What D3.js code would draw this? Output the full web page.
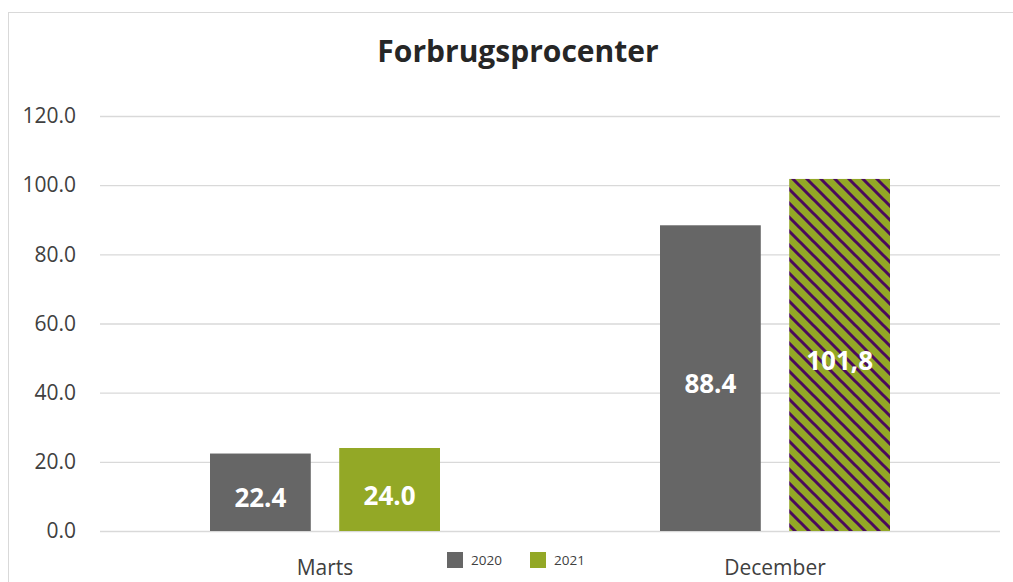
<!DOCTYPE html>
<html>
<head>
<meta charset="utf-8">
<script src="https://cdn.jsdelivr.net/npm/d3@7"></script>
<style>
  body { margin: 0; background: #fff; }
  text { font-family: "Open Sans", "Noto Sans", sans-serif; }
</style>
</head>
<body>
<div id="canvas"></div>
<script>
// ---- DATA ----
var categories = ['Marts', 'December'];
var seriesNames = ['2020', '2021'];
var values2020 = [22.4, 88.4];
var values2021 = [24.0, 101.8];
var labels2020 = ['22.4', '88.4'];
var labels2021 = ['24.0', '101,8'];
var yTicks = [0, 20, 40, 60, 80, 100, 120];

// ---- CONVENTIONS ----
var outerWidth = 1013, outerHeight = 582;
var margin = {top: 116, right: 13, bottom: 51, left: 100};
var width = outerWidth - margin.left - margin.right,
    height = outerHeight - margin.top - margin.bottom;

var svg = d3.select('#canvas')
    .append('svg')
    .attr('width', outerWidth)
    .attr('height', outerHeight);

// striped fill for the last bar
var defs = svg.append('defs');
var pat = defs.append('pattern')
    .attr('id', 'stripes')
    .attr('patternUnits', 'userSpaceOnUse')
    .attr('width', 14)
    .attr('height', 14);
pat.append('rect').attr('width', 14).attr('height', 14).attr('fill', '#93a826');
pat.append('path')
    .attr('d', 'M-7,7 L7,21 M0,0 L14,14 M7,-7 L21,7')
    .attr('stroke', '#4a0a5c')
    .attr('stroke-width', 3);

// chart frame
svg.append('rect')
    .attr('x', 8.5).attr('y', 12.5)
    .attr('width', 1020).attr('height', 600)
    .attr('fill', 'none')
    .attr('stroke', '#d9d9d9')
    .attr('stroke-width', 1);

svg.append('text')
    .attr('x', 518).attr('y', 62)
    .attr('text-anchor', 'middle')
    .style('font-size', '30px')
    .style('font-weight', 'bold')
    .style('fill', '#262626')
    .text('Forbrugsprocenter');

var plot = svg.append('g')
    .attr('transform', 'translate(' + margin.left + ',' + margin.top + ')');

// ---- SCALES ----
var scaleX = d3.scaleBand()
    .domain(categories)
    .range([0, 900]);

var scaleSeries = d3.scaleBand()
    .domain(seriesNames)
    .range([0, 230])
    .paddingInner(0.22);

var scaleY = d3.scaleLinear()
    .domain([0, 120])
    .range([height, 0]);

// ---- AXES ----
var axisY = d3.axisLeft(scaleY)
    .tickValues(yTicks)
    .tickSize(-900)
    .tickFormat(d3.format('.1f'));

var gy = plot.append('g').attr('class', 'axis axis-y').call(axisY);
gy.select('.domain').remove();
gy.selectAll('line').attr('stroke', '#d9d9d9').attr('stroke-width', 1.3);
gy.selectAll('text')
    .style('font-size', '21px')
    .style('fill', '#404040')
    .attr('x', -24);

var axisX = d3.axisBottom(scaleX).tickSize(0).tickPadding(29);
var gx = plot.append('g').attr('class', 'axis axis-x')
    .attr('transform', 'translate(0,' + height + ')')
    .call(axisX);
gx.select('.domain').remove();
gx.selectAll('text')
    .style('font-size', '21px')
    .style('fill', '#404040');

// ---- BARS ----
var rows = categories.map(function(c, i) {
    return [
        {cat: c, series: '2020', value: values2020[i], label: labels2020[i], fill: '#666666'},
        {cat: c, series: '2021', value: values2021[i], label: labels2021[i], fill: i === 1 ? 'url(#stripes)' : '#93a826'}
    ];
});
var bars = d3.merge(rows);

function barX(d) {
    return scaleX(d.cat) + scaleX.bandwidth() / 2 - 115 + scaleSeries(d.series);
}

plot.selectAll('.bar')
    .data(bars)
    .enter()
    .append('rect')
    .attr('class', 'bar')
    .attr('x', barX)
    .attr('y', function(d) { return scaleY(d.value); })
    .attr('width', scaleSeries.bandwidth())
    .attr('height', function(d) { return height - scaleY(d.value); })
    .attr('fill', function(d) { return d.fill; });

plot.selectAll('.bar-label')
    .data(bars)
    .enter()
    .append('text')
    .attr('class', 'bar-label')
    .attr('x', function(d) { return barX(d) + scaleSeries.bandwidth() / 2; })
    .attr('y', function(d) { return (scaleY(d.value) + height) / 2 + 15; })
    .attr('text-anchor', 'middle')
    .style('font-size', '26px')
    .style('font-weight', 'bold')
    .style('fill', '#ffffff')
    .text(function(d) { return d.label; });

// ---- LEGEND ----
var legendColors = ['#666666', '#93a826'];
var legend = svg.append('g').attr('transform', 'translate(447,552)');
var items = legend.selectAll('.legend-item')
    .data(seriesNames)
    .enter()
    .append('g')
    .attr('class', 'legend-item')
    .attr('transform', function(d, i) { return 'translate(' + (i * 83) + ',0)'; });
items.append('rect')
    .attr('width', 16).attr('height', 16)
    .attr('fill', function(d, i) { return legendColors[i]; });
items.append('text')
    .attr('x', 24).attr('y', 13)
    .style('font-size', '13.5px')
    .style('fill', '#404040')
    .text(function(d) { return d; });
</script>
</body>
</html>
